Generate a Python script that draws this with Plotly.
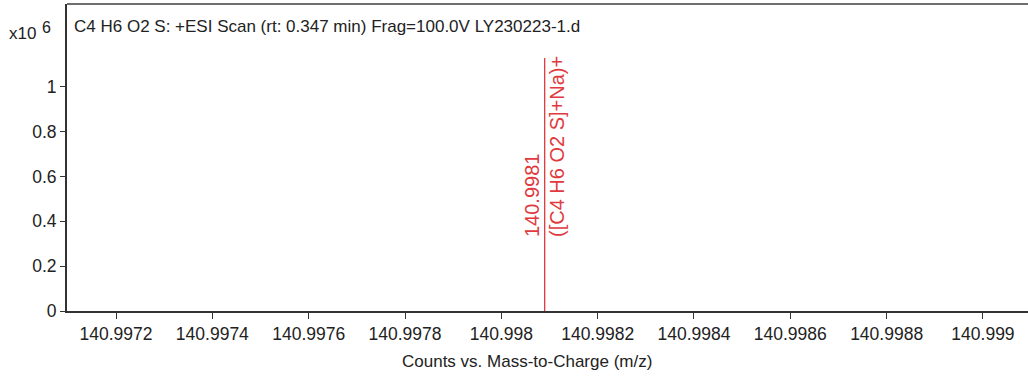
import plotly.graph_objects as go

# ---- data ----
peak_mz = [140.99809]
peak_counts_x1e6 = [1.129]
peak_labels = ["140.9981"]
peak_formulas = ["([C4 H6 O2 S]+Na)+"]

x_tick_vals = [140.9972, 140.9974, 140.9976, 140.9978, 140.9980,
               140.9982, 140.9984, 140.9986, 140.9988, 140.9990]
x_tick_text = ["140.9972", "140.9974", "140.9976", "140.9978", "140.998",
               "140.9982", "140.9984", "140.9986", "140.9988", "140.999"]
y_tick_vals = [0, 0.2, 0.4, 0.6, 0.8, 1.0]
y_tick_text = ["0", "0.2", "0.4", "0.6", "0.8", "1"]

x_range = [140.9970982, 140.9990935]
y_range = [0, 1.37]

title_text = "C4 H6 O2 S: +ESI Scan (rt: 0.347 min) Frag=100.0V LY230223-1.d"
x_title = "Counts vs. Mass-to-Charge (m/z)"

RED = "#e0393e"
FONT = "Liberation Sans, Arial, sans-serif"

xs, ys = [], []
for m, c in zip(peak_mz, peak_counts_x1e6):
    xs += [m, m, None]
    ys += [0, c, None]

fig = go.Figure()
fig.add_trace(go.Scatter(x=xs, y=ys, mode="lines",
                         line=dict(color=RED, width=1.3),
                         hoverinfo="skip", showlegend=False))

annotations = []
for m, c, lab, form in zip(peak_mz, peak_counts_x1e6, peak_labels, peak_formulas):
    annotations.append(dict(x=m, y=0.322, xref="x", yref="y", text=lab,
                            textangle=-90, showarrow=False, xanchor="right",
                            yanchor="bottom", xshift=1,
                            font=dict(family=FONT, size=20, color=RED)))
    annotations.append(dict(x=m, y=0.322, xref="x", yref="y", text=form,
                            textangle=-90, showarrow=False, xanchor="left",
                            yanchor="bottom", xshift=0,
                            font=dict(family=FONT, size=20, color=RED)))

annotations += [
    dict(x=0.0052, y=0.928, xref="paper", yref="paper", text=title_text,
         showarrow=False, xanchor="left", yanchor="middle",
         font=dict(family=FONT, size=17, color="#222")),
    dict(x=-0.0468, y=0.905, xref="paper", yref="paper", text="x10",
         showarrow=False, xanchor="center", yanchor="middle",
         font=dict(family=FONT, size=17, color="#222")),
    dict(x=-0.0218, y=0.925, xref="paper", yref="paper", text="6",
         showarrow=False, xanchor="center", yanchor="middle",
         font=dict(family=FONT, size=16, color="#222")),
    dict(x=0.4787, y=-0.163, xref="paper", yref="paper", text=x_title,
         showarrow=False, xanchor="center", yanchor="middle",
         font=dict(family=FONT, size=17, color="#222")),
]

fig.update_layout(
    width=1028, height=376,
    margin=dict(l=67, r=0, t=4, b=65, autoexpand=False),
    paper_bgcolor="white", plot_bgcolor="white",
    showlegend=False,
    annotations=annotations,
    shapes=[dict(type="line", xref="paper", yref="paper", x0=0, x1=1, y0=1, y1=1,
                 line=dict(color="#6e6e6e", width=2))],
    xaxis=dict(range=x_range, tickvals=x_tick_vals, ticktext=x_tick_text,
               automargin=False,
               showgrid=False, zeroline=False, showline=True, linecolor="#333",
               linewidth=2, ticks="outside", ticklen=6, tickwidth=1, tickcolor="#333",
               tickfont=dict(family=FONT, size=17.5, color="#222")),
    yaxis=dict(range=y_range, tickvals=y_tick_vals, ticktext=y_tick_text,
               automargin=False,
               showgrid=False, zeroline=False, showline=True, linecolor="#333",
               linewidth=2, ticks="outside", ticklen=5, tickwidth=1, tickcolor="#333",
               tickfont=dict(family=FONT, size=17.5, color="#222")),
)

fig.write_html("out.html", config={"displayModeBar": False},
               post_script="document.body.style.margin='0';document.body.style.overflow='hidden';")
